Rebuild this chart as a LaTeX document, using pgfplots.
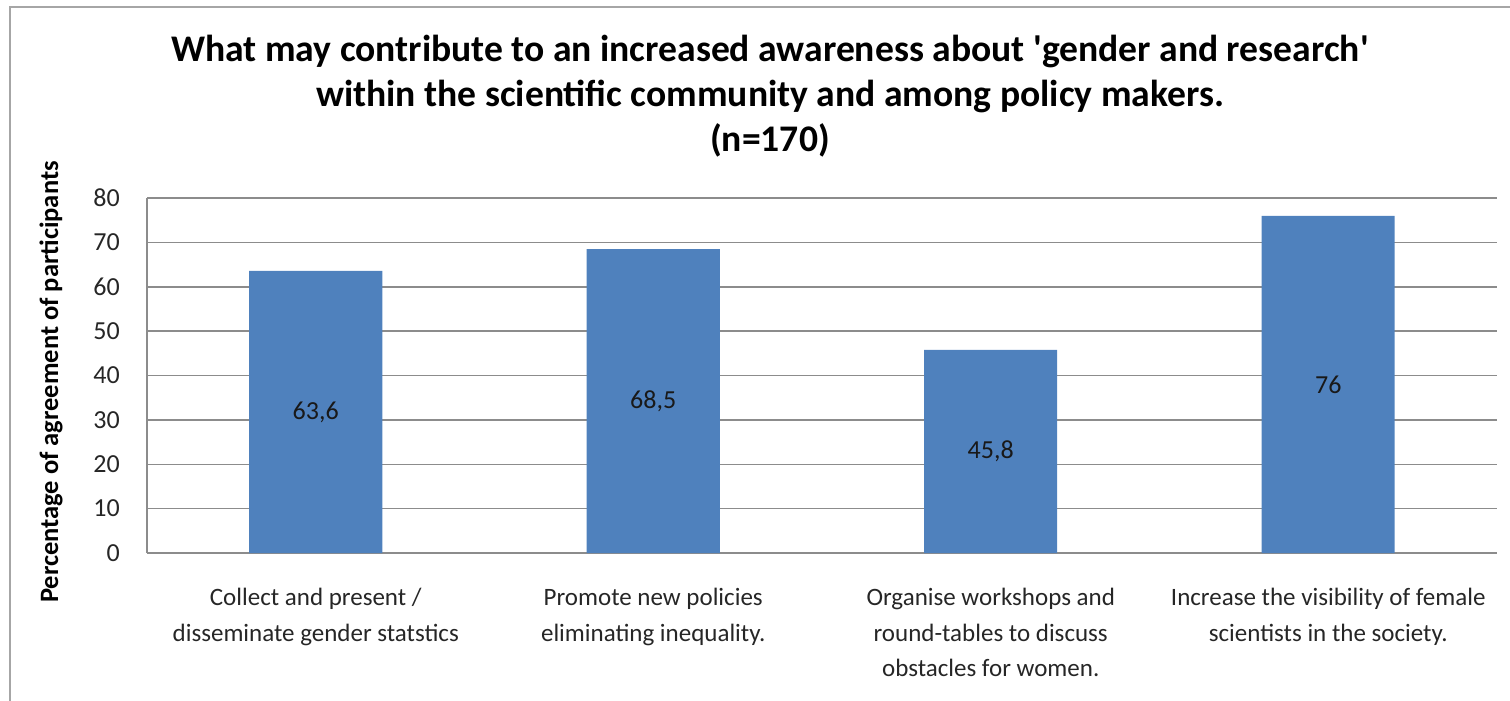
\documentclass[border=0pt]{standalone}
\usepackage{pgfplots}
\usepackage{pgfplotstable}
\pgfplotsset{compat=1.18}
\usepackage{fontspec}
\setmainfont{Carlito}
\definecolor{barblue}{HTML}{4F81BD}
\definecolor{gridgray}{HTML}{8C8C8C}
\definecolor{framegray}{HTML}{A6A6A6}
\pgfplotstableread{
x h mid lab
0 63.6 31.8 63,6
1 68.5 34.25 68,5
2 45.8 22.9 45,8
3 76.0 38.0 76
}\datatable
\begin{document}
\begin{tikzpicture}
\path[use as bounding box] (0bp,0bp) rectangle (1510bp,701bp);
\draw[framegray, line width=1.5bp] (10bp,0bp) -- (10bp,694bp) -- (1510bp,694bp);
\begin{axis}[
  at={(147bp,148bp)}, anchor=south west,
  scale only axis, width=1350bp, height=355bp,
  xmin=-0.5, xmax=3.5, ymin=0, ymax=80,
  ytick={0,10,...,80},
  xtick={0,1,2,3},
  xticklabels={{Collect and present /\\disseminate gender statstics},
               {Promote new policies\\eliminating inequality.},
               {Organise workshops and\\round-tables to discuss\\obstacles for women.},
               {Increase the visibility of female\\scientists in the society.}},
  xticklabel style={align=center, anchor=north, inner sep=0pt, yshift=-35bp,
     font=\fontsize{25bp}{35.5bp}\selectfont, text=black!85},
  yticklabel style={anchor=east, inner sep=0pt, xshift=-27bp,
     font=\fontsize{26bp}{30bp}\selectfont, text=black!85},
  /pgf/number format/assume math mode=true,
  major tick length=0pt,
  axis x line=bottom, axis y line=left,
  axis line style={gridgray, line width=1.5bp, -},
  ymajorgrids, major grid style={gridgray, line width=1.5bp},
  clip=false,
]
\addplot[ybar, fill=barblue, draw=none, bar width=133bp] table[x=x, y=h] {\datatable};
\addplot[draw=none, nodes near coords, point meta=explicit symbolic,
  every node near coord/.style={anchor=center, font=\fontsize{26bp}{30bp}\selectfont, text=black!90}]
  table[x=x, y=mid, meta=lab] {\datatable};
\end{axis}
\node[align=center, font=\bfseries\fontsize{37.6bp}{45bp}\selectfont] at (770bp,605bp)
  {What may contribute to an increased awareness about \textquotesingle gender and research\textquotesingle\\
   within the scientific community and among policy makers.\\
   (n=170)};
\node[rotate=90, font=\bfseries\fontsize{26.5bp}{30bp}\selectfont] at (51bp,319bp)
  {Percentage of agreement of participants};
\end{tikzpicture}
\end{document}
